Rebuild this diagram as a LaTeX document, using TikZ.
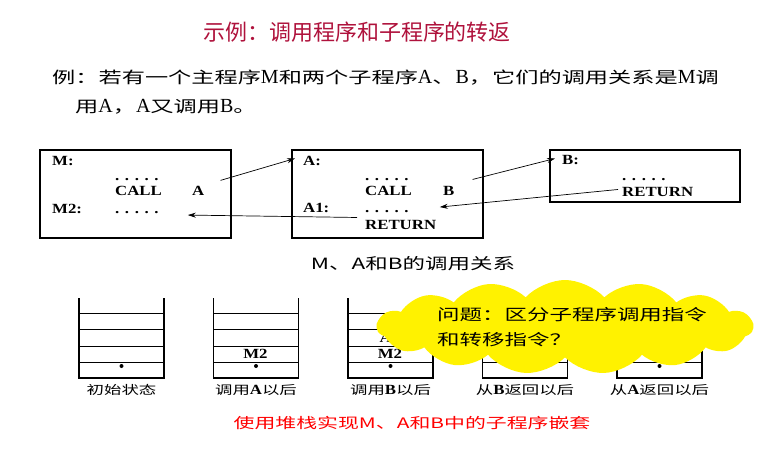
\documentclass[tikz,border=0pt]{standalone}
\usepackage{fontspec}
\setmainfont{Liberation Serif}
\newfontfamily\cjk{Noto Sans CJK SC}
\newfontfamily\cjkw[FakeStretch=1.45]{Noto Sans CJK SC}
\newfontfamily\boxfont[FakeStretch=1.2]{Liberation Serif}
\newcommand\lat[1]{{\rmfamily\fontsize{20}{22}\selectfont #1}}
\newcommand\blat[1]{{\boxfont\bfseries\fontsize{14}{16}\selectfont #1}}
\usetikzlibrary{shapes.symbols,arrows.meta}
\definecolor{titlered}{RGB}{175,18,60}

\begin{document}
\begin{tikzpicture}[x=1pt,y=-1pt,>={Stealth[length=8pt,width=5pt]},
    progbox/.style={draw,line width=1.6pt,inner sep=0pt},
    codetxt/.style={font=\boxfont\bfseries\fontsize{14}{16}\selectfont,inner sep=0pt,anchor=base west},
    captxt/.style={font=\cjkw\fontsize{15.5}{18}\selectfont,inner sep=0pt},
    stacklab/.style={font=\cjkw\fontsize{12}{14}\selectfont,inner sep=0pt},
    stackrow/.style={line width=0.9pt},
    stackside/.style={line width=1.6pt},
    dotmark/.style={circle,fill,inner sep=0pt,minimum size=4pt},
    call/.style={->,line width=0.7pt}]
    \useasboundingbox (0,0) rectangle (772,458);

    % Title and question
    \node[font=\cjk\fontsize{22}{26}\selectfont,text=titlered] (title) at (357,32) {示例：调用程序和子程序的转返};
    \node[font=\cjkw\fontsize{16}{20}\selectfont,anchor=west,inner sep=0pt] (intro1) at (52,78)
        {例：若有一个主程序\lat{M}和两个子程序\lat{A}、\lat{B}，它们的调用关系是\lat{M}调};
    \node[font=\cjkw\fontsize{16}{20}\selectfont,anchor=west,inner sep=0pt] (intro2) at (75,107)
        {用\lat{A}，\lat{A}又调用\lat{B}。};

    % Program M
    \node[progbox,minimum width=191pt,minimum height=88pt] (boxM) at (135.5,194) {};
    \node[codetxt] (labM) at (52,165) {M:};
    \node[codetxt] (dotsM) at (115,180) {. . . . .};
    \node[codetxt] (callA) at (115,195) {CALL};
    \node[codetxt] (argA) at (192,195) {A};
    \node[codetxt] (labM2) at (52,213) {M2:};
    \node[codetxt] (dotsM2) at (115,213) {. . . . .};

    % Subprogram A
    \node[progbox,minimum width=191pt,minimum height=88pt] (boxA) at (387.5,194) {};
    \node[codetxt] (labA) at (303,165) {A:};
    \node[codetxt] (dotsA) at (365,180) {. . . . .};
    \node[codetxt] (callB) at (365,195) {CALL};
    \node[codetxt] (argB) at (443,195) {B};
    \node[codetxt] (labA1) at (303,212) {A1:};
    \node[codetxt] (dotsA1) at (365,212) {. . . . .};
    \node[codetxt] (retA) at (365,229) {RETURN};

    % Subprogram B
    \node[progbox,minimum width=190pt,minimum height=52pt] (boxB) at (645,176) {};
    \node[codetxt] (labB) at (562,164) {B:};
    \node[codetxt] (dotsB) at (622,180) {. . . . .};
    \node[codetxt] (retB) at (622,196) {RETURN};

    % Calls and returns
    \draw[call] ([xshift=16pt,yshift=10pt]argA.east) -- ([xshift=-8pt,yshift=2pt]labA.west);
    \draw[call] ([xshift=-8pt,yshift=7pt]retA.west) -- ([xshift=29pt,yshift=-3pt]dotsM2.east);
    \draw[call] ([xshift=18pt,yshift=11pt]argB.east) -- ([xshift=-7pt,yshift=1pt]labB.west);
    \draw[call] ([xshift=-4pt,yshift=2pt]retB.west) -- ([xshift=31pt,yshift=4pt]dotsA1.east);

    \node[captxt] (relcap) at (413,264) {M、A和B的调用关系};

    % Stacks
    \foreach \i/\txt in {1/{初始状态},2/{调用\blat{A}以后},3/{调用\blat{B}以后},4/{从\blat{B}返回以后},5/{从\blat{A}返回以后}}{
      \begin{scope}[xshift={134.5*(\i-1)}]
        \foreach \ry in {313,329,346,362}
          \draw[stackrow] (79,\ry) -- (164,\ry);
        \draw[stackside] (79,298) -- (79,378) -- (164,378) -- (164,298);
        \node[dotmark] (dot\i) at (121.5,366) {};
        \node[stacklab] (lab\i) at (121.5,390) {\txt};
      \end{scope}
    }
    \node[codetxt,anchor=center] (s2m2) at (255.5,354) {M2};
    \node[codetxt,anchor=center] (s3a1) at (390,338) {A1};
    \node[codetxt,anchor=center] (s3m2) at (390,354) {M2};

    % Question cloud
    \node[cloud,cloud puffs=15,cloud puff arc=95,aspect=4,fill=yellow,
          minimum width=376pt,minimum height=94pt,inner sep=0pt] (qcloud) at (565,327) {};
    \node[captxt,anchor=west] (q1) at (437,315) {问题：区分子程序调用指令};
    \node[captxt,anchor=west] (q2) at (437,340) {和转移指令？};

    \node[captxt,font=\cjkw\fontsize{14.4}{17}\selectfont,text=red] (nestcap) at (412,423)
        {使用堆栈实现M、A和B中的子程序嵌套};
\end{tikzpicture}
\end{document}
